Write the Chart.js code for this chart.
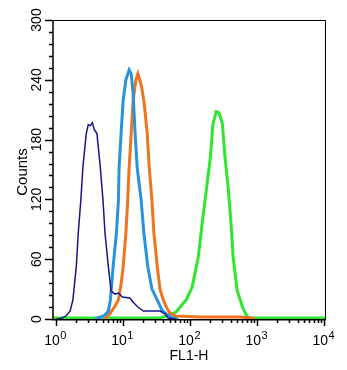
<!DOCTYPE html>
<html>
<head>
<meta charset="utf-8">
<script src="https://cdn.jsdelivr.net/npm/chart.js@4.4.1/dist/chart.umd.min.js"></script>
<style>
    body { margin: 0; background: #fff; }
    canvas { display: block; }
</style>
</head>
<body>
<canvas id="histChart" width="347" height="370"></canvas>
<script>
// FL1-H channel values (x) and event counts (y)
const navyX = [1, 1.07, 1.23, 1.41, 1.62, 1.78, 2.0, 2.14, 2.34, 2.51, 2.82, 3.02, 3.24, 3.47, 3.72, 4.07, 4.57, 5.01, 5.37, 6.03, 6.61, 7.59, 8.51, 9.77, 12.6, 14.5, 16.6, 20.0, 35.5, 42.7, 46.8, 60.3];
const navyY = [0, 0, 1, 3, 8, 19, 52, 86, 119, 152, 186, 195, 194, 197, 190, 186, 152, 119, 86, 52, 28, 25, 26, 22, 21, 16, 12, 8, 8, 5, 1, 0];

const cyanX = [3.82, 4.57, 5.37, 6.03, 6.46, 7.08, 7.94, 8.51, 8.71, 9.33, 10.0, 11.0, 12.3, 13.2, 14.1, 15.1, 16.2, 18.6, 20.4, 23.4, 26.9, 32.4, 38.0, 45.7, 53.7, 66.1];
const cyanY = [0, 2, 4, 8, 19, 52, 86, 119, 152, 186, 219, 240, 250, 246, 226, 186, 152, 119, 86, 52, 30, 19, 9, 4, 1, 0];

const orangeX = [5.37, 6.46, 7.41, 8.51, 9.33, 10.0, 11.0, 11.7, 12.3, 13.2, 14.1, 15.5, 16.6, 18.6, 20.4, 22.9, 24.5, 26.9, 28.8, 32.4, 35.5, 39.8, 45.7, 50.1, 60.3, 141, 562, 794, 933];
const orangeY = [0, 6, 12, 19, 35, 52, 86, 119, 152, 186, 219, 240, 246, 235, 219, 186, 152, 119, 86, 52, 30, 19, 10, 6, 3, 2, 2, 1, 0];

const greenX = [0.9, 35.5, 39.8, 61.7, 79.4, 87.1, 107, 132, 151, 174, 200, 219, 245, 269, 302, 331, 372, 407, 437, 501, 603, 708, 851, 10300];
const greenY = [1, 1, 2, 7, 16, 19, 32, 62, 96, 129, 162, 196, 208, 207, 196, 162, 129, 96, 62, 29, 12, 2, 1, 1];

// Axis range and ticks
const xMin = 0.9;
const xMax = 10250;
const xDecades = [1, 10, 100, 1000, 10000];
const xDecadeExps = ['0', '1', '2', '3', '4'];
const yTickValues = [0, 60, 120, 180, 240, 300];
const yTickLabels = ['0', '60', '120', '180', '240', '300'];
const yMinorStep = 12;

const FONT = '"Liberation Sans", Arial, sans-serif';

function toPoints(xs, ys) {
    return xs.map((x, i) => ({ x: x, y: ys[i] }));
}

// Draws frame, tick marks and all axis text (rotated y labels, 10^n labels)
const axisPlugin = {
    id: 'axisPlugin',
    afterDraw(chart) {
        const ctx = chart.ctx;
        const area = chart.chartArea;
        const xs = chart.scales.x;
        const ys = chart.scales.y;

        ctx.save();
        ctx.strokeStyle = '#000';
        ctx.fillStyle = '#000';

        // top + right frame
        ctx.lineWidth = 1;
        ctx.beginPath();
        ctx.moveTo(area.left, area.top + 0.5);
        ctx.lineTo(area.right + 0.5, area.top + 0.5);
        ctx.lineTo(area.right + 0.5, area.bottom);
        ctx.stroke();

        // left + bottom axis lines
        ctx.lineWidth = 1.5;
        ctx.beginPath();
        ctx.moveTo(area.left, area.top);
        ctx.lineTo(area.left, area.bottom + 0.75);
        ctx.lineTo(area.right + 1, area.bottom + 0.75);
        ctx.stroke();

        // y ticks
        for (let v = 0; v <= 300; v += yMinorStep) {
            const py = Math.round(ys.getPixelForValue(v)) + 0.5;
            const major = yTickValues.includes(v);
            ctx.beginPath();
            ctx.moveTo(area.left - (major ? 8 : 4), py);
            ctx.lineTo(area.left, py);
            ctx.stroke();
        }

        // x ticks (decades + minors)
        xDecades.forEach((d, i) => {
            const px = Math.round(xs.getPixelForValue(d)) + 0.5;
            ctx.beginPath();
            ctx.moveTo(px, area.bottom);
            ctx.lineTo(px, area.bottom + 7);
            ctx.stroke();
            if (i < xDecades.length - 1) {
                for (let k = 2; k <= 9; k++) {
                    const mx = Math.round(xs.getPixelForValue(d * k)) + 0.5;
                    ctx.beginPath();
                    ctx.moveTo(mx, area.bottom);
                    ctx.lineTo(mx, area.bottom + 4);
                    ctx.stroke();
                }
            }
        });

        // y tick labels, rotated
        ctx.font = '14px ' + FONT;
        ctx.textAlign = 'center';
        ctx.textBaseline = 'alphabetic';
        yTickValues.forEach((v, i) => {
            const py = ys.getPixelForValue(v);
            ctx.save();
            ctx.translate(41, py);
            ctx.rotate(-Math.PI / 2);
            ctx.fillText(yTickLabels[i], 0, 0);
            ctx.restore();
        });

        // y title
        ctx.save();
        ctx.font = '15px ' + FONT;
        ctx.translate(27, 172);
        ctx.rotate(-Math.PI / 2);
        ctx.fillText('Counts', 0, 0);
        ctx.restore();

        // x tick labels: 10 with superscript exponent
        xDecades.forEach((d, i) => {
            const px = xs.getPixelForValue(d);
            ctx.font = '14px ' + FONT;
            const baseW = ctx.measureText('10').width;
            ctx.font = '11px ' + FONT;
            const expW = ctx.measureText(xDecadeExps[i]).width;
            const start = px - (baseW + expW) / 2 - 1;
            ctx.textAlign = 'left';
            ctx.font = '14px ' + FONT;
            ctx.fillText('10', start, 345);
            ctx.font = '11px ' + FONT;
            ctx.fillText(xDecadeExps[i], start + baseW + 0.5, 339);
        });

        // x title
        ctx.font = '14px ' + FONT;
        ctx.textAlign = 'center';
        ctx.fillText('FL1-H', (area.left + area.right) / 2, 360);

        ctx.restore();
    }
};

const ctx = document.getElementById('histChart').getContext('2d');

new Chart(ctx, {
    type: 'line',
    data: {
        datasets: [
            {
                label: 'isotype',
                data: toPoints(navyX, navyY),
                borderColor: '#16168a',
                borderWidth: 1.5,
                order: 1
            },
            {
                label: 'control',
                data: toPoints(cyanX, cyanY),
                borderColor: '#2a92dc',
                borderWidth: 3,
                order: 2
            },
            {
                label: 'sample 1',
                data: toPoints(orangeX, orangeY),
                borderColor: '#f0731e',
                borderWidth: 3,
                order: 3
            },
            {
                label: 'sample 2',
                data: toPoints(greenX, greenY),
                borderColor: '#2ee62e',
                borderWidth: 3,
                order: 4
            }
        ]
    },
    options: {
        responsive: false,
        animation: false,
        layout: { padding: { top: 20, right: 22, left: 0, bottom: 0 } },
        plugins: {
            legend: { display: false },
            tooltip: { enabled: false }
        },
        elements: {
            point: { radius: 0 },
            line: { tension: 0, fill: false }
        },
        scales: {
            x: {
                type: 'logarithmic',
                min: xMin,
                max: xMax,
                ticks: { display: false },
                grid: { display: false },
                border: { display: false },
                afterFit: (scale) => { scale.height = 51; }
            },
            y: {
                min: 0,
                max: 300,
                ticks: { display: false },
                grid: { display: false },
                border: { display: false },
                afterFit: (scale) => { scale.width = 53; }
            }
        }
    },
    plugins: [axisPlugin]
});
</script>
</body>
</html>
